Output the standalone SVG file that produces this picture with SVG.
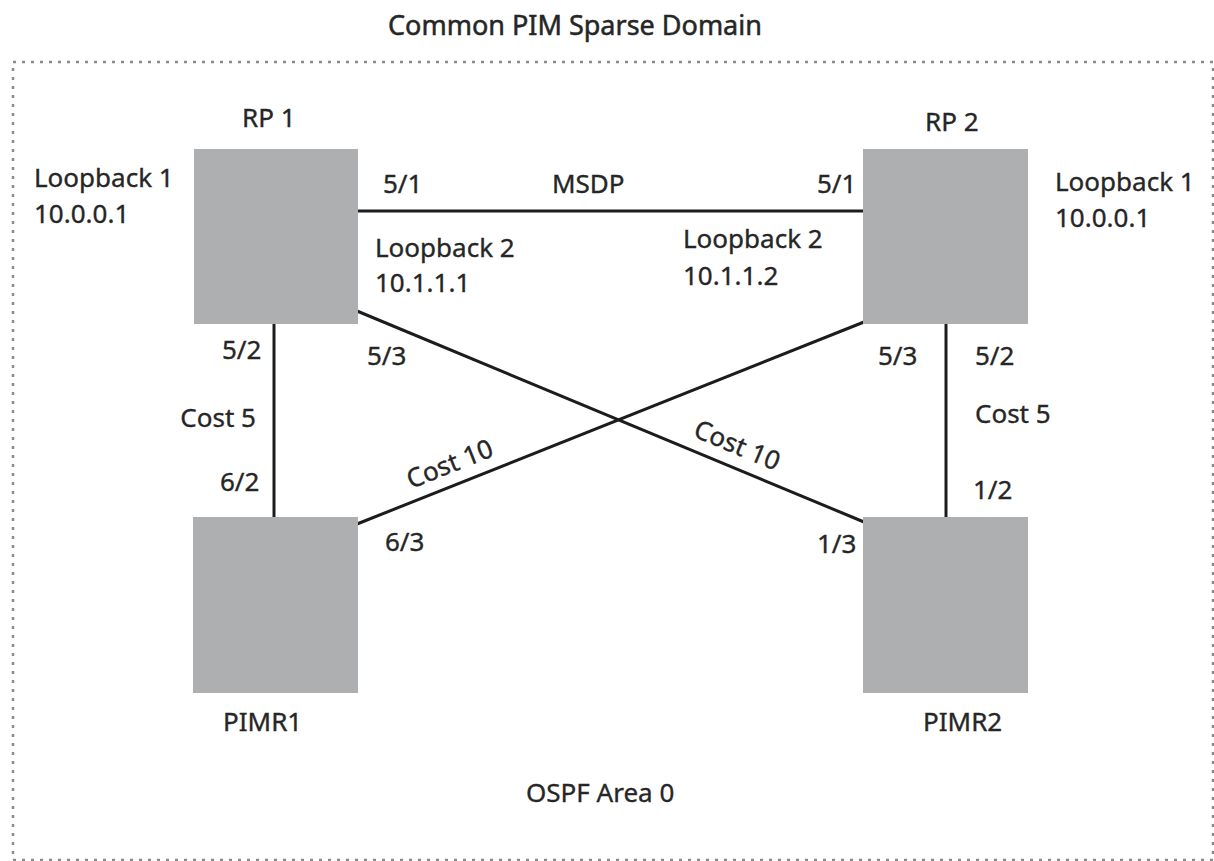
<svg xmlns="http://www.w3.org/2000/svg" width="1214" height="861" viewBox="0 0 1214 861">
  <style>
    .lbl { font-family: "Noto Sans", "Open Sans", sans-serif; font-size: 26px; fill: #262626; stroke: #262626; stroke-width: 0.35; }
    .title { font-size: 27px; stroke-width: 0.5; }
    .router { fill: #aeafb1; }
    .link { stroke: #1c1c1c; stroke-width: 3; fill: none; }
    .domain { fill: none; stroke: #8a8a8a; stroke-width: 2.5; stroke-dasharray: 3 6; }
  </style>
  <rect width="1214" height="861" fill="#ffffff"/>

  <!-- PIM sparse domain boundary -->
  <g id="domain">
    <text class="lbl title" x="388" y="35">Common PIM Sparse Domain</text>
    <rect class="domain" x="13" y="62" width="1200" height="798"/>
    <text class="lbl" x="526" y="802">OSPF Area 0</text>
  </g>

  <!-- links between routers -->
  <g id="connectors">
    <line class="link" x1="358" y1="211" x2="863" y2="211"/>
    <line class="link" x1="274" y1="324" x2="274" y2="518"/>
    <line class="link" x1="946" y1="323" x2="946" y2="518"/>
    <line class="link" x1="357" y1="311" x2="864" y2="522"/>
    <line class="link" x1="357" y1="524" x2="864" y2="322"/>
    <text class="lbl" x="383" y="193">5/1</text>
    <text class="lbl" x="552" y="193">MSDP</text>
    <text class="lbl" x="817" y="193">5/1</text>
    <text class="lbl" x="222" y="359">5/2</text>
    <text class="lbl" x="256" y="427" text-anchor="end">Cost 5</text>
    <text class="lbl" x="220" y="491">6/2</text>
    <text class="lbl" x="367" y="365">5/3</text>
    <text class="lbl" x="385" y="551">6/3</text>
    <text class="lbl" x="878" y="365">5/3</text>
    <text class="lbl" x="975" y="365">5/2</text>
    <text class="lbl" x="975" y="423">Cost 5</text>
    <text class="lbl" x="973" y="499">1/2</text>
    <text class="lbl" x="817" y="553">1/3</text>
    <text class="lbl" transform="translate(411 489) rotate(-21.8)">Cost 10</text>
    <text class="lbl" transform="translate(692 436) rotate(22.7)">Cost 10</text>
  </g>

  <g id="rp1">
    <rect class="router" x="194" y="149" width="164" height="175"/>
    <text class="lbl" x="242" y="127">RP 1</text>
    <text class="lbl" x="34" y="187">Loopback 1</text>
    <text class="lbl" x="34" y="223">10.0.0.1</text>
    <text class="lbl" x="375" y="257">Loopback 2</text>
    <text class="lbl" x="375" y="292">10.1.1.1</text>
  </g>

  <g id="rp2">
    <rect class="router" x="863" y="149" width="165" height="175"/>
    <text class="lbl" x="925" y="131">RP 2</text>
    <text class="lbl" x="1055" y="191">Loopback 1</text>
    <text class="lbl" x="1055" y="227">10.0.0.1</text>
    <text class="lbl" x="683" y="248">Loopback 2</text>
    <text class="lbl" x="683" y="285">10.1.1.2</text>
  </g>

  <g id="pimr1">
    <rect class="router" x="193" y="517" width="165" height="176"/>
    <text class="lbl" x="223" y="731">PIMR1</text>
  </g>

  <g id="pimr2">
    <rect class="router" x="863" y="517" width="165" height="176"/>
    <text class="lbl" x="923" y="731">PIMR2</text>
  </g>
</svg>
